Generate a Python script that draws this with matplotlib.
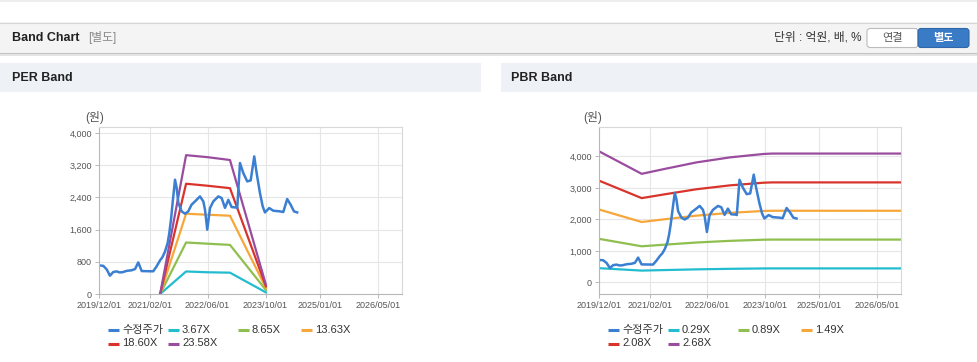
import matplotlib
matplotlib.use("Agg")
import matplotlib.pyplot as plt
import matplotlib.dates as mdates
from matplotlib.patches import Rectangle, FancyBboxPatch
from matplotlib.ticker import FixedLocator, FuncFormatter
import numpy as np
import pandas as pd

plt.rcParams['font.family'] = ['Liberation Sans', 'Noto Sans CJK KR']

# --- Data ---

price_dates = ['2019-12-01', '2020-01-06', '2020-02-04', '2020-03-02', '2020-03-30',
               '2020-04-28', '2020-05-20', '2020-06-14', '2020-07-21', '2020-09-01',
               '2020-09-29', '2020-10-26', '2020-11-24', '2021-02-02', '2021-03-01',
               '2021-03-30', '2021-04-27', '2021-05-18', '2021-06-08', '2021-06-30',
               '2021-07-14', '2021-07-28', '2021-08-12', '2021-08-31', '2021-09-14',
               '2021-09-28', '2021-10-26', '2021-11-23', '2021-12-20', '2022-01-17',
               '2022-02-15', '2022-03-29', '2022-04-26', '2022-05-10', '2022-05-29',
               '2022-06-21', '2022-07-19', '2022-08-30', '2022-09-27', '2022-10-25',
               '2022-11-22', '2022-12-20', '2023-01-25', '2023-02-05', '2023-02-28',
               '2023-03-28', '2023-04-30', '2023-05-29', '2023-06-28', '2023-07-18',
               '2023-08-15', '2023-09-07', '2023-09-26', '2023-11-01', '2023-12-05',
               '2024-01-30', '2024-02-27', '2024-03-31', '2024-04-29', '2024-05-27',
               '2024-06-23']
price_values = [711, 700, 610, 455, 547,
                562, 537, 540, 575, 590,
                620, 785, 570, 565, 565,
                690, 835, 919, 1058, 1267,
                1516, 1846, 2300, 2840, 2634,
                2261, 2053, 1995, 2053, 2219,
                2301, 2425, 2301, 2095, 1598,
                2136, 2301, 2425, 2385, 2140,
                2340, 2160, 2150, 2136, 3255,
                3006, 2798, 2822, 3419, 3006,
                2509, 2177, 2027, 2136, 2070,
                2053, 2037, 2360, 2219, 2053,
                2027]

per_band_dates = ['2021-04-28', '2021-12-02', '2022-06-01', '2022-12-06', '2023-10-04']
per_367 = [0, 560, 540, 530, 40]
per_865 = [0, 1280, 1250, 1220, 100]
per_1363 = [0, 1995, 1970, 1945, 150]
per_1860 = [0, 2740, 2690, 2630, 190]
per_2358 = [0, 3450, 3400, 3330, 230]
per_labels = ['3.67X', '8.65X', '13.63X', '18.60X', '23.58X']

pbr_band_dates = ['2019-12-01', '2020-11-25', '2021-05-27', '2022-03-01', '2022-12-10',
                  '2023-09-18', '2023-12-01', '2026-11-21']
pbr_029 = [450, 373, 389, 412, 429, 441, 442, 442]
pbr_089 = [1381, 1144, 1193, 1264, 1317, 1353, 1357, 1357]
pbr_149 = [2312, 1915, 1997, 2116, 2205, 2265, 2272, 2272]
pbr_208 = [3228, 2673, 2787, 2954, 3078, 3162, 3172, 3172]
pbr_268 = [4159, 3444, 3591, 3806, 3966, 4074, 4087, 4087]
pbr_labels = ['0.29X', '0.89X', '1.49X', '2.08X', '2.68X']

price_label = '수정주가'
x_tick_dates = ['2019-12-01', '2021-02-01', '2022-06-01', '2023-10-01', '2025-01-01', '2026-05-01']
per_yticks = [0, 800, 1600, 2400, 3200, 4000]
pbr_yticks = [0, 1000, 2000, 3000, 4000]

price_color = '#3b7fd2'
band_colors = ['#22bccf', '#8fbf4f', '#f7a73a', '#d9342c', '#9a4c9e']

W, H = 978, 362
fig = plt.figure(figsize=(W / 100, H / 100), dpi=100)

# --- Background / page chrome (pixel coordinates) ---
bg = fig.add_axes([0, 0, 1, 1])
bg.set_xlim(0, W)
bg.set_ylim(H, 0)
bg.axis('off')
bg.set_zorder(0)

bg.add_patch(Rectangle((0, 0), W, 2, facecolor='#eeeeee', edgecolor='none'))
bg.add_patch(Rectangle((0, 54), W, 2, facecolor='#e4e4e4', edgecolor='none'))
bg.add_patch(Rectangle((0, 22), W, 31, facecolor='#f4f4f4', edgecolor='none'))
bg.plot([0, W], [22.5, 22.5], color='#d6d6d6', lw=0.8)
bg.plot([0, W], [53, 53], color='#c4c4c4', lw=0.8)
bg.text(12, 38, 'Band Chart', fontsize=9, fontweight='bold', color='#222222', va='center')
bg.text(88, 38, '[별도]', fontsize=8.5, color='#888888', va='center')
bg.text(861, 38, '단위 : 억원, 배, %', fontsize=8.5, color='#333333', va='center', ha='right')
bg.add_patch(FancyBboxPatch((867, 28.5), 51, 19, boxstyle='round,pad=0,rounding_size=3',
                            facecolor='white', edgecolor='#bcbcbc', lw=0.8))
bg.add_patch(FancyBboxPatch((918, 28.5), 51, 19, boxstyle='round,pad=0,rounding_size=3',
                            facecolor='#3a7bc6', edgecolor='#2f67a8', lw=0.8))
bg.text(892.5, 38.5, '연결', fontsize=8, color='#555555', ha='center', va='center')
bg.text(943.5, 38.5, '별도', fontsize=8, color='white', ha='center', va='center', fontweight='bold')

bg.add_patch(Rectangle((0, 63), 481, 29, facecolor='#eef2f7', edgecolor='none'))
bg.add_patch(Rectangle((501, 63), 477, 29, facecolor='#eef2f7', edgecolor='none'))
bg.text(12, 78, 'PER Band', fontsize=9, fontweight='bold', color='#222222', va='center')
bg.text(511, 78, 'PBR Band', fontsize=9, fontweight='bold', color='#222222', va='center')

bg.text(95, 117, '(원)', fontsize=8.5, color='#555555', ha='center', va='center')
bg.text(593, 117, '(원)', fontsize=8.5, color='#555555', ha='center', va='center')


def style_axes(ax, yticks, ylim):
    ax.set_facecolor('white')
    ax.set_xlim(pd.Timestamp('2019-12-01'), pd.Timestamp('2026-11-21'))
    ax.set_ylim(*ylim)
    ax.xaxis.set_major_locator(FixedLocator(mdates.date2num(pd.to_datetime(x_tick_dates))))
    ax.xaxis.set_major_formatter(mdates.DateFormatter('%Y/%m/%d'))
    ax.yaxis.set_major_locator(FixedLocator(yticks))
    ax.yaxis.set_major_formatter(FuncFormatter(lambda v, p: f'{int(v):,}'))
    ax.grid(True, color='#e6e6e6', lw=0.8)
    ax.set_axisbelow(True)
    for side in ['top', 'right']:
        ax.spines[side].set_color('#d8d8d8')
        ax.spines[side].set_linewidth(0.8)
    for side in ['left', 'bottom']:
        ax.spines[side].set_color('#b8b8b8')
        ax.spines[side].set_linewidth(0.8)
    ax.tick_params(axis='both', length=3, width=0.7, color='#b8b8b8',
                   labelsize=6.5, labelcolor='#555555', pad=2)


def draw_legend(x0, labels):
    items = [price_label] + labels
    colors = [price_color] + band_colors
    spots = [(108, 330), (168, 330), (238, 330), (301, 330), (108, 343.5), (168, 343.5)]
    for (x, y), lab, c in zip(spots, items, colors):
        bg.plot([x0 + x, x0 + x + 11], [y, y], color=c, lw=2.2, solid_capstyle='butt')
        bg.text(x0 + x + 14, y, lab, fontsize=8, color='#333333', va='center')


# --- PER Band ---
ax1 = fig.add_axes([99 / W, 1 - 294 / H, 303 / W, 167 / H])
ax1.set_zorder(1)
pd_dates = pd.to_datetime(per_band_dates)
for vals, c in zip([per_367, per_865, per_1363, per_1860, per_2358], band_colors):
    ax1.plot(pd_dates, vals, color=c, lw=1.6)
ax1.plot(pd.to_datetime(price_dates), price_values, color=price_color, lw=1.8)
style_axes(ax1, per_yticks, (0, 4150))
draw_legend(0, per_labels)

# --- PBR Band ---
ax2 = fig.add_axes([599 / W, 1 - 294 / H, 302 / W, 167 / H])
ax2.set_zorder(1)
pb_dates = pd.to_datetime(pbr_band_dates)
for vals, c in zip([pbr_029, pbr_089, pbr_149, pbr_208, pbr_268], band_colors):
    ax2.plot(pb_dates, vals, color=c, lw=1.6)
ax2.plot(pd.to_datetime(price_dates), price_values, color=price_color, lw=1.8)
style_axes(ax2, pbr_yticks, (-370, 4930))
draw_legend(500, pbr_labels)

fig.savefig('out.png', dpi=100)
